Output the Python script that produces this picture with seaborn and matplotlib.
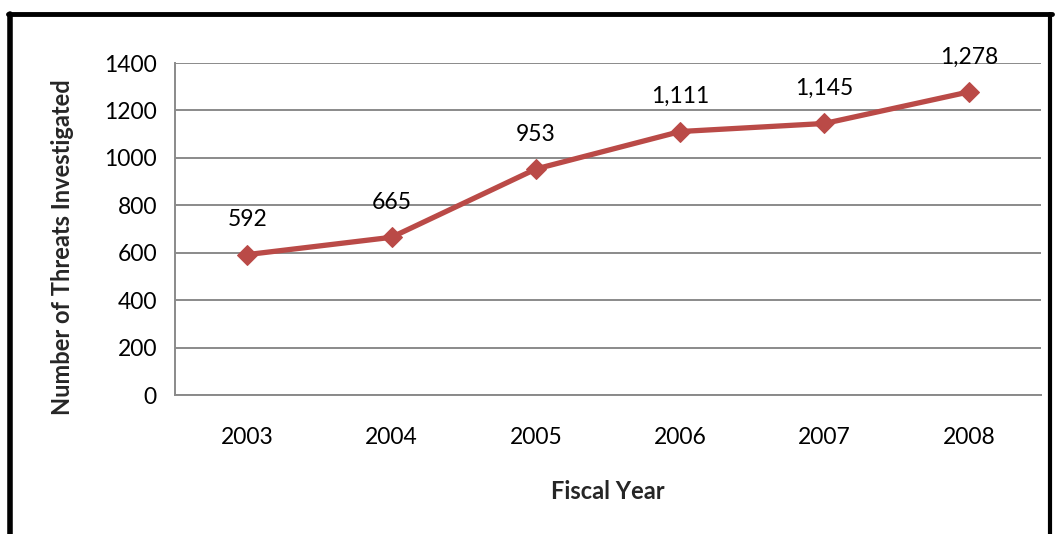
import matplotlib
matplotlib.use("Agg")
import matplotlib.pyplot as plt
import seaborn as sns
import pandas as pd
from matplotlib.lines import Line2D
from matplotlib.ticker import FixedLocator

years = ["2003", "2004", "2005", "2006", "2007", "2008"]
threats = [592, 665, 953, 1111, 1145, 1278]
value_labels = ["592", "665", "953", "1,111", "1,145", "1,278"]

sns.set_style("white")
plt.rcParams['font.family'] = ['Lato', 'DejaVu Sans']

fig = plt.figure(figsize=(10.57, 5.34), dpi=100)
ax = fig.add_axes([175/1057, 1-395/534, (1041-175)/1057, (395-63)/534])

df = pd.DataFrame({"Fiscal Year": years, "Threats": threats})
color = "#BA4A47"
sns.lineplot(data=df, x="Fiscal Year", y="Threats", ax=ax, color=color,
             linewidth=3.8, marker="D", markersize=10.5, markeredgecolor=color,
             markerfacecolor=color, sort=False)

ax.set_xlim(-0.5, len(years) - 0.5)
ax.set_ylim(0, 1400)
ax.set_yticks(range(0, 1401, 200))
ax.yaxis.grid(True, color="#8a8a8a", linewidth=1.4)
ax.xaxis.grid(False)

for i, (v, lab) in enumerate(zip(threats, value_labels)):
    ax.annotate(lab, (i, v), xytext=(0, 25), textcoords="offset points",
                ha="center", va="center", fontsize=16.5, color="black")

ax.tick_params(axis="x", which="major", length=0, labelsize=16.5, pad=23, labelcolor="black")
ax.xaxis.set_minor_locator(FixedLocator([i - 0.5 for i in range(len(years) + 1)]))
ax.tick_params(axis="x", which="minor", length=8, width=1.4, color="#8a8a8a", direction="out")
ax.tick_params(axis="y", length=9, width=1.4, color="#8a8a8a", direction="out", labelsize=16.5, pad=4, labelcolor="black")

for s in ["top", "right"]:
    ax.spines[s].set_visible(False)
for s in ["left", "bottom"]:
    ax.spines[s].set_color("#8a8a8a")
    ax.spines[s].set_linewidth(1.4)

ax.set_xlabel("Fiscal Year", fontsize=17, fontweight="bold", labelpad=23)
ax.set_ylabel("Number of Threats Investigated", fontsize=17, fontweight="bold", labelpad=22, y=0.445)

# outer frame
W, H = 1057, 534
fig.add_artist(Line2D([10/W, 10/W], [0, 1-14/H], color="black", linewidth=4, transform=fig.transFigure))
fig.add_artist(Line2D([8/W, 1052/W], [1-14/H, 1-14/H], color="black", linewidth=3.5, transform=fig.transFigure))
fig.add_artist(Line2D([1050/W, 1050/W], [0, 1-14/H], color="black", linewidth=3, transform=fig.transFigure))

fig.savefig("out.png", dpi=100)
